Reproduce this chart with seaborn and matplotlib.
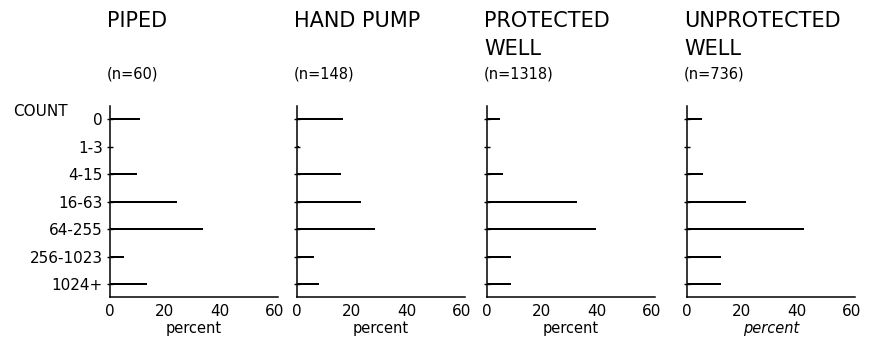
import pandas as pd
import matplotlib
matplotlib.use("Agg")
import matplotlib.pyplot as plt
import seaborn as sns

# count classes (rows) and water sources (panels)
counts = ["0", "1-3", "4-15", "16-63", "64-255", "256-1023", "1024+"]
sources = ["PIPED", "HAND PUMP", "PROTECTED\nWELL", "UNPROTECTED\nWELL"]
sample_sizes = ["(n=60)", "(n=148)", "(n=1318)", "(n=736)"]

# percent of samples in each count class
piped = [11.0, 0.0, 10.0, 24.5, 34.0, 5.0, 13.5]
hand_pump = [16.7, 0.8, 16.2, 23.3, 28.5, 6.1, 8.0]
protected_well = [4.9, 0.0, 5.9, 33.0, 39.8, 8.6, 8.6]
unprotected_well = [5.5, 0.0, 5.7, 21.5, 42.6, 12.5, 12.4]

x_ticks = [0, 20, 40, 60]

sns.set_style("white")
plt.rcParams["font.family"] = ["DejaVu Sans"]
plt.rcParams["text.color"] = "black"
plt.rcParams["axes.labelcolor"] = "black"
plt.rcParams["xtick.color"] = "black"
plt.rcParams["ytick.color"] = "black"

W, H = 870, 339
fig = plt.figure(figsize=(W / 100, H / 100), dpi=100)

lefts = [110, 297, 487, 687]
series = [piped, hand_pump, protected_well, unprotected_well]

for i, (name, n_label, values) in enumerate(zip(sources, sample_sizes, series)):
    ax = fig.add_axes([lefts[i] / W, (H - 297) / H, 168 / W, 191 / H])
    df = pd.DataFrame({"count": counts, "percent": values})
    sns.barplot(data=df, x="percent", y="count", order=counts, orient="h",
                color="black", saturation=1, width=0.07, linewidth=0, ax=ax)
    ax.set_xlim(0, 61.3)
    ax.set_ylim(6.47, -0.49)
    ax.set_xticks(x_ticks)
    ax.set_xticklabels([str(t) for t in x_ticks], fontsize=11)
    ax.set_xlabel("percent", fontsize=10.5, labelpad=1.5,
                  style="italic" if i == 3 else "normal")
    ax.set_ylabel("")
    if i == 0:
        ax.set_yticklabels(counts, fontsize=11)
    else:
        ax.set_yticklabels([])
    ax.tick_params(axis="y", direction="inout", length=4, width=1, pad=3, left=True)
    ax.tick_params(axis="x", length=0, pad=5)
    for side in ["top", "right"]:
        ax.spines[side].set_visible(False)
    for side in ["left", "bottom"]:
        ax.spines[side].set_color("black")
        ax.spines[side].set_linewidth(1.1)

    fig.text((lefts[i] - 3) / W, 1 - 11 / H, name, fontsize=15,
             va="top", ha="left", linespacing=1.5)
    fig.text((lefts[i] - 3) / W, 1 - 74 / H, n_label, fontsize=10.5,
             va="center", ha="left")

fig.text(13 / W, 1 - 111 / H, "COUNT", fontsize=11, va="center", ha="left")

fig.savefig("out.png", dpi=100, facecolor="white")
